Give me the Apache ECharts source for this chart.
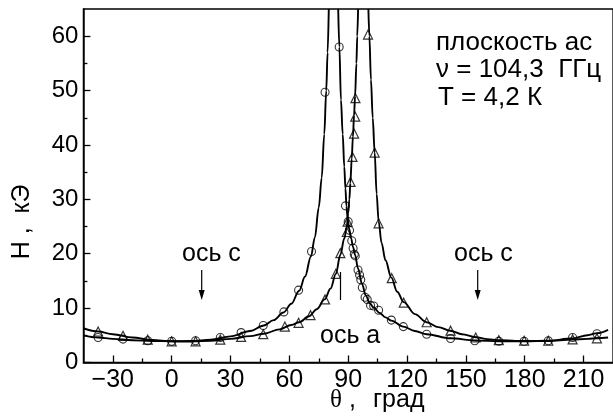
<!DOCTYPE html>
<html><head><meta charset="utf-8">
<script src="https://cdn.jsdelivr.net/npm/echarts@6/dist/echarts.min.js"></script>
<style>html,body{margin:0;padding:0;background:#fff}#c{width:613px;height:417px}</style>
</head><body><div id="c"></div>
<script>
// Tick labels
const xTickLabels = [-30, 0, 30, 60, 90, 120, 150, 180, 210];
const xMinorTicks = [-15, 15, 45, 75, 105, 135, 165, 195];
const yTickLabels = [0, 10, 20, 30, 40, 50, 60];
const yMinorTicks = [5, 15, 25, 35, 45, 55];

// Measured points: circles
const circX = [-37.5,-24.8,-12.2,0,12.2,24.8,35.4,46.7,57.2,64.7,71.3,78.2,85.4,88.6,90.0,90.7,91.8,92.5,93.1,93.6,95.0,95.8,96.4,97.2,98.6,99.7,101.4,103.0,105.5,112.0,118.1,130.0,142.2,154.5,166.8,179.7,192.0,204.4,216.8];
const circY = [4.6,4.3,4.0,3.9,4.0,4.6,5.5,6.8,9.3,13.3,20.4,49.7,58.0,28.8,25.9,24.3,22.4,21.0,19.9,19.6,17.0,16.1,15.2,13.8,12.0,11.6,10.5,10.4,9.6,7.8,6.6,5.2,4.4,4.0,3.9,3.9,4.0,4.6,5.3];

// Measured points: triangles
const triX = [-37.5,-24.8,-12.2,0,12.2,24.8,35.4,46.7,57.7,64.7,70.8,78.2,83.7,86.0,89.3,89.7,91.2,92.2,93.0,93.6,93.7,100.1,103.5,105.5,112.2,118.3,130.0,142.2,155.0,166.8,179.7,192.0,204.4,216.8];
const triY = [5.7,4.9,4.2,3.9,3.9,4.2,4.7,5.2,6.6,7.3,8.7,11.6,16.3,20.1,24.0,25.9,33.2,37.8,42.1,45.2,48.6,60.3,38.6,25.6,15.5,11.0,7.4,5.85,4.6,4.1,4.0,4.0,4.25,4.45];

// Fitted curves
const circLeftX = [-45,-37.5,-30,-20,-10,0,10,20,30,40,47,52,57,61,65,68,71,73,75,76.5,77.8,78.8,79.5,80.1];
const circLeftY = [5.0,4.6,4.35,4.1,3.95,3.9,3.95,4.2,4.8,5.8,6.8,7.8,9.2,10.8,13.2,15.8,19.5,23,28.5,34,42,50,57,65];
const circRightX = [84.9,85.5,86.3,87.2,88.0,88.6,89.1,89.7,90.5,91.5,92.5,93.5,95,97,99,101,103,106,109,112,118,124,130,142,155,167,180,192,204,212,217,222.5];
const circRightY = [65,58,48.3,42,36,32,28.8,26.5,24.6,22.8,21.2,19.8,17.3,14.5,12.3,10.9,10.1,9.1,8.3,7.7,6.6,5.8,5.2,4.45,4.05,3.9,3.9,4.0,4.4,5.0,5.4,6.0];
const triLeftX = [-45,-37.5,-30,-20,-10,0,10,20,30,40,47,55,61,65,70,74,78,81,83.7,86,88,89.3,90,90.6,91.1,91.8,92.4,93,93.5,94.2,94.6,95.05];
const triLeftY = [6.3,5.7,5.2,4.6,4.15,3.9,3.85,4.0,4.35,4.85,5.3,6.1,6.9,7.4,8.5,9.8,11.6,13.6,16.3,19.8,22.8,25,27.5,30,33,37.5,41.5,45.5,49,55,60,65];
const triRightX = [100.3,100.8,101.6,102.5,103.5,104.5,105.5,107,109,112,115,118.3,124,130,136,142,148,155,161,167,180,192,204,212,217,222.5];
const triRightY = [65,60,52,45,38.6,31,26,22,18.8,15.6,13,11.1,8.9,7.4,6.5,5.85,5.2,4.65,4.3,4.1,3.95,3.95,4.2,4.35,4.45,4.6];

const zip = (a, b) => a.map((v, i) => [v, b[i]]);
const FONT = 'Liberation Sans';
const chart = echarts.init(document.getElementById('c'), null, {renderer: 'canvas'});

const lineStyle = {color: '#000', width: 1.9};
function curve(x, y) {
  return {type: 'line', data: zip(x, y), showSymbol: false, symbol: 'none',
    smooth: 0.35, smoothMonotone: 'x', lineStyle: lineStyle, z: 2, silent: true, clip: true};
}
const T = (text, left, top, size, family) => ({type: 'text', left: left, top: top,
  style: {text: text, font: size + 'px "' + (family || FONT) + '"', fill: '#000'}});

const option = {
  backgroundColor: '#fff',
  animation: false,
  grid: {left: 83.4, top: 9, width: 534.6, height: 353.5, show: true, borderColor: '#000', borderWidth: 1.3, backgroundColor: 'transparent'},
  xAxis: [{
    type: 'value', min: -45, max: 225, interval: 15,
    axisLine: {show: true, onZero: false, lineStyle: {color: '#000', width: 1.5}},
    axisTick: {show: true, inside: true, length: 7, customValues: xTickLabels, lineStyle: {color: '#000', width: 1.3}},
    axisLabel: {show: true, customValues: xTickLabels, color: '#000', fontFamily: FONT, fontSize: 25, margin: 5,
      formatter: v => (v < 0 ? '\u2212' + Math.abs(v) : String(v))},
    splitLine: {show: false}
  }, {
    type: 'value', min: -45, max: 225, interval: 15, position: 'bottom',
    axisLine: {show: false, onZero: false},
    axisTick: {show: true, inside: true, length: 4, customValues: xMinorTicks, lineStyle: {color: '#000', width: 1.3}},
    axisLabel: {show: false}, splitLine: {show: false}
  }],
  yAxis: [{
    type: 'value', min: 0, max: 65, interval: 5,
    axisLine: {show: true, onZero: false, lineStyle: {color: '#000', width: 1.5}},
    axisTick: {show: true, inside: true, length: 7, customValues: yTickLabels, lineStyle: {color: '#000', width: 1.3}},
    axisLabel: {show: true, customValues: yTickLabels, color: '#000', fontFamily: FONT, fontSize: 24, margin: 5},
    splitLine: {show: false}
  }, {
    type: 'value', min: 0, max: 65, interval: 5, position: 'left',
    axisLine: {show: false, onZero: false},
    axisTick: {show: true, inside: true, length: 4, customValues: yMinorTicks, lineStyle: {color: '#000', width: 1.3}},
    axisLabel: {show: false}, splitLine: {show: false}
  }],
  series: [
    curve(circLeftX, circLeftY),
    curve(circRightX, circRightY),
    curve(triLeftX, triLeftY),
    curve(triRightX, triRightY),
    {type: 'scatter', data: zip(circX, circY), symbol: 'circle', symbolSize: 8,
      itemStyle: {color: 'rgba(255,255,255,0)', borderColor: '#000', borderWidth: 1.1}, z: 3, silent: true},
    {type: 'scatter', data: zip(triX, triY), symbol: 'triangle', symbolSize: 9,
      itemStyle: {color: 'rgba(255,255,255,0)', borderColor: '#000', borderWidth: 1.2}, z: 3, silent: true}
  ],
  graphic: [
    T('плоскость ас', 436, 30, 26),
    T('ν = 104,3  ГГц', 436, 57, 26),
    T('Т = 4,2 К', 438, 85, 26),
    T('ось с', 182, 242, 25),
    T('ось с', 454, 242, 25),
    T('ось а', 320, 324, 25),
    T('θ', 330, 388, 25, 'Liberation Serif'),
    T(',', 349, 388, 25),
    T('град', 373, 388, 25),
    {type: 'text', x: 22, y: 222, rotation: Math.PI / 2,
      style: {text: 'Н ,  кЭ', font: '25px "Liberation Sans"', fill: '#000', align: 'center', verticalAlign: 'middle'}},
    {type: 'line', shape: {x1: 201.7, y1: 270, x2: 201.7, y2: 293}, style: {stroke: '#000', lineWidth: 1.2}},
    {type: 'polygon', shape: {points: [[198.7, 290], [204.7, 290], [201.7, 300]]}, style: {fill: '#000'}},
    {type: 'line', shape: {x1: 477.7, y1: 270, x2: 477.7, y2: 293}, style: {stroke: '#000', lineWidth: 1.2}},
    {type: 'polygon', shape: {points: [[474.7, 290], [480.7, 290], [477.7, 300]]}, style: {fill: '#000'}},
    {type: 'line', shape: {x1: 340.5, y1: 272, x2: 340.5, y2: 300}, style: {stroke: '#000', lineWidth: 1.2}}
  ]
};
chart.setOption(option);
</script></body></html>
